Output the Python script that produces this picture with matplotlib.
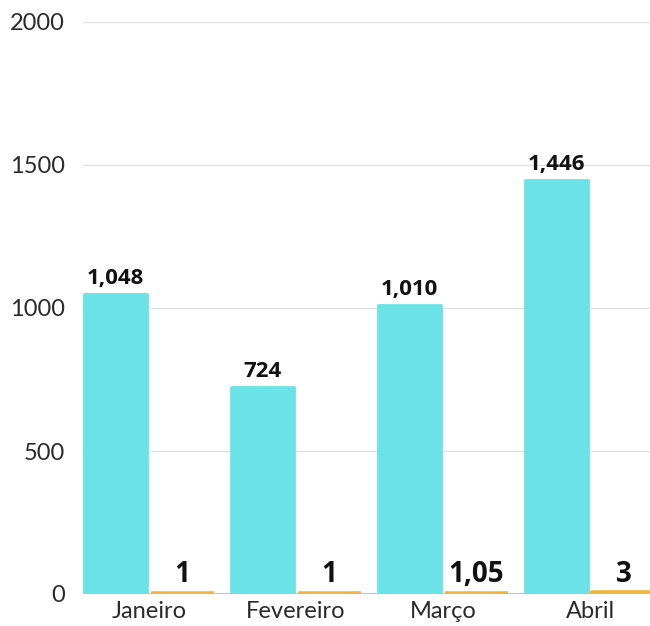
import matplotlib
matplotlib.use("Agg")
import matplotlib.pyplot as plt
import numpy as np

months = ["Janeiro", "Fevereiro", "Março", "Abril"]
primary_values = [1048, 724, 1010, 1446]
secondary_values = [1, 1, 1.05, 3]
primary_labels = ["1,048", "724", "1,010", "1,446"]
secondary_labels = ["1", "1", "1,05", "3"]
y_ticks = [0, 500, 1000, 1500, 2000]

cyan = "#6be3e6"
amber = "#f2b43f"

fig = plt.figure(figsize=(6.5, 6.26), dpi=100)
ax = fig.add_axes([83 / 650, 32 / 626, 567 / 650, 572 / 626])

x = np.arange(len(months))
w = 0.425
off = w / 2 + 0.015

b1 = ax.bar(x - off, primary_values, width=w, color=cyan, edgecolor=cyan,
            linewidth=2, zorder=3)
b2 = ax.bar(x + off, secondary_values, width=w, color=amber, edgecolor=amber,
            linewidth=4, zorder=3)
for p in list(b1) + list(b2):
    p.set_joinstyle("round")

for xi, v, lab in zip(x - off, primary_values, primary_labels):
    ax.text(xi, v + 18, lab, ha="center", va="bottom", fontsize=16,
            fontweight="bold", family="Open Sans", color="#111111", zorder=4)
for xi, v, lab in zip(x + off, secondary_values, secondary_labels):
    ax.text(xi, v + 15, lab, ha="center", va="bottom", fontsize=20,
            fontweight="bold", family="Open Sans", color="#111111", zorder=4)

ax.set_xlim(-0.449, 3.408)
ax.set_ylim(0, 2000)
ax.set_yticks(y_ticks)
ax.set_yticklabels([str(t) for t in y_ticks], family="Lato", fontsize=17,
                   fontweight="normal", color="#2a2a2a")
ax.set_xticks(x)
ax.set_xticklabels(months, family="Lato", fontsize=17, fontweight="normal",
                   color="#2a2a2a")
ax.tick_params(axis="both", length=0)
ax.tick_params(axis="y", pad=13)
ax.tick_params(axis="x", pad=5)

ax.grid(axis="y", color="#e2e2e2", linewidth=1, zorder=0)
ax.axhline(0, color="#bdbdbd", linewidth=1.5, zorder=1)
for s in ax.spines.values():
    s.set_visible(False)

fig.savefig("out.png", dpi=100)
